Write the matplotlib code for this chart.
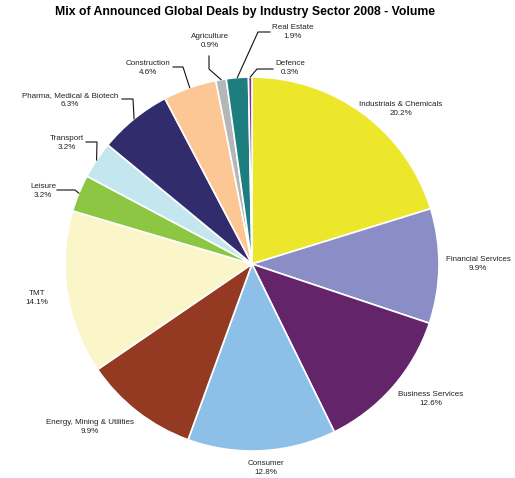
import numpy as np
import matplotlib
matplotlib.use('Agg')
import matplotlib.pyplot as plt

plt.rcParams['font.family'] = ['Liberation Sans', 'DejaVu Sans']

sectors = ['Industrials & Chemicals', 'Financial Services', 'Business Services', 'Consumer',
           'Energy, Mining & Utilities', 'TMT', 'Leisure', 'Transport',
           'Pharma, Medical & Biotech', 'Construction', 'Agriculture', 'Real Estate', 'Defence']
shares = [20.2, 9.9, 12.6, 12.8, 9.9, 14.1, 3.2, 3.2, 6.3, 4.6, 0.9, 1.9, 0.3]
colors = ['#EDE72B', '#8B8DC7', '#63246A', '#8DC0E8', '#943A22', '#FAF6C9', '#8DC642',
          '#C4E7EF', '#312C6C', '#FDC795', '#B4B6B8', '#1E7D7F', '#7B3294']

W, H = 515, 478
# label block centres in pixels (top origin)
label_pos = [(401, 109), (478, 264), (431, 399), (266, 468), (90, 427), (37, 298),
             (43, 191), (67, 143), (70, 100), (148, 68), (210, 41), (293, 32), (290, 68)]
# leader lines: (start, elbow) in pixels, end goes to the wedge edge
leaders = {6: ((57, 190), (75, 190)), 7: ((86, 142), (97, 142)), 8: ((122, 99), (133, 99)),
           9: ((173, 67), (183, 67)), 10: ((209, 56), (209, 69)), 11: ((270, 32), (258, 32)),
           12: ((273, 69), (257, 69))}

cx, cy, r = 252, 264, 187

fig = plt.figure(figsize=(W / 100, H / 100), dpi=100)
ax = fig.add_axes([0, 0, 1, 1])
ax.axis('off')

wedges, _ = ax.pie(shares, colors=colors, startangle=90, counterclock=False,
                   center=(cx, H - cy), radius=r,
                   wedgeprops=dict(edgecolor='white', linewidth=1.2))
ax.set_xlim(0, W)
ax.set_ylim(0, H)
ax.set_aspect('equal')

for i, (name, val) in enumerate(zip(sectors, shares)):
    x, y = label_pos[i]
    ax.text(x, H - y, f'{name}\n{val:.1f}%', ha='center', va='center',
            fontsize=5.8, color='#222222', linespacing=1.4)
    if i in leaders:
        w = wedges[i]
        ang = np.deg2rad((w.theta1 + w.theta2) / 2)
        ex = cx + r * np.cos(ang)
        ey = (H - cy) + r * np.sin(ang)
        (sx, sy), (bx, by) = leaders[i]
        ax.plot([sx, bx, ex], [H - sy, H - by, ey], color='#111111', lw=0.8)

fig.text(245 / W, 1 - 12 / H, 'Mix of Announced Global Deals by Industry Sector 2008 - Volume',
         ha='center', va='center', fontsize=8.8, fontweight='bold')

fig.savefig('out.png', dpi=100)
